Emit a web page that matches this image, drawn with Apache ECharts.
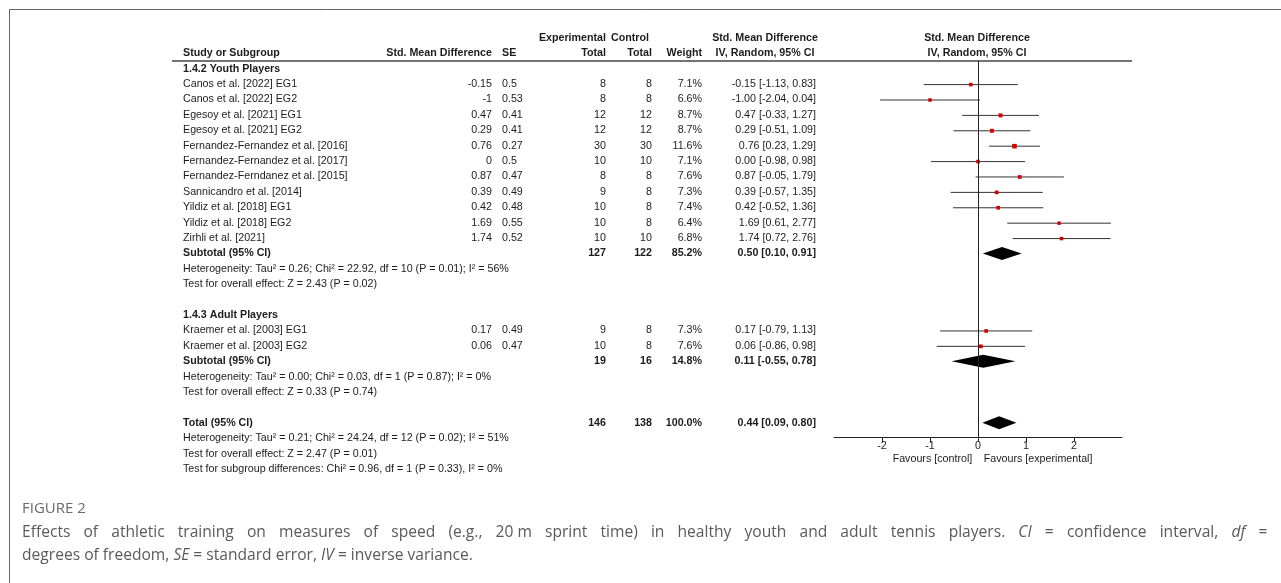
<!DOCTYPE html>
<html><head><meta charset="utf-8">
<script src="https://cdn.jsdelivr.net/npm/echarts@6/dist/echarts.min.js"></script>
<style>html,body{margin:0;padding:0;background:#fff}#c{width:1281px;height:583px}</style>
</head><body><div id="c"></div>
<script>
// ---------- data ----------
const youthStudies = ['Canos et al. [2022] EG1', 'Canos et al. [2022] EG2', 'Egesoy et al. [2021] EG1', 'Egesoy et al. [2021] EG2',
  'Fernandez-Fernandez et al. [2016]', 'Fernandez-Fernandez et al. [2017]', 'Fernandez-Ferndanez et al. [2015]',
  'Sannicandro et al. [2014]', 'Yildiz et al. [2018] EG1', 'Yildiz et al. [2018] EG2', 'Zirhli et al. [2021]'];
const youthSMD = [-0.15, -1, 0.47, 0.29, 0.76, 0, 0.87, 0.39, 0.42, 1.69, 1.74];
const youthSE = [0.5, 0.53, 0.41, 0.41, 0.27, 0.5, 0.47, 0.49, 0.48, 0.55, 0.52];
const youthExpN = [8, 8, 12, 12, 30, 10, 8, 9, 10, 10, 10];
const youthCtrlN = [8, 8, 12, 12, 30, 10, 8, 8, 8, 8, 10];
const youthWeight = [7.1, 6.6, 8.7, 8.7, 11.6, 7.1, 7.6, 7.3, 7.4, 6.4, 6.8];
const youthLow = [-1.13, -2.04, -0.33, -0.51, 0.23, -0.98, -0.05, -0.57, -0.52, 0.61, 0.72];
const youthHigh = [0.83, 0.04, 1.27, 1.09, 1.29, 0.98, 1.79, 1.35, 1.36, 2.77, 2.76];

const adultStudies = ['Kraemer et al. [2003] EG1', 'Kraemer et al. [2003] EG2'];
const adultSMD = [0.17, 0.06];
const adultSE = [0.49, 0.47];
const adultExpN = [9, 10];
const adultCtrlN = [8, 8];
const adultWeight = [7.3, 7.6];
const adultLow = [-0.79, -0.86];
const adultHigh = [1.13, 0.98];

// pooled: youth subtotal, adult subtotal, overall total
const pooledLabels = ['Subtotal (95% CI)', 'Subtotal (95% CI)', 'Total (95% CI)'];
const pooledEst = [0.50, 0.11, 0.44];
const pooledLow = [0.10, -0.55, 0.09];
const pooledHigh = [0.91, 0.78, 0.80];
const pooledExpN = [127, 19, 146];
const pooledCtrlN = [122, 16, 138];
const pooledWeight = [85.2, 14.8, 100.0];

const groupTitles = ['1.4.2 Youth Players', '1.4.3 Adult Players'];
const youthStats = ['Heterogeneity: Tau² = 0.26; Chi² = 22.92, df = 10 (P = 0.01); I² = 56%', 'Test for overall effect: Z = 2.43 (P = 0.02)'];
const adultStats = ['Heterogeneity: Tau² = 0.00; Chi² = 0.03, df = 1 (P = 0.87); I² = 0%', 'Test for overall effect: Z = 0.33 (P = 0.74)'];
const totalStats = ['Heterogeneity: Tau² = 0.21; Chi² = 24.24, df = 12 (P = 0.02); I² = 51%', 'Test for overall effect: Z = 2.47 (P = 0.01)',
  'Test for subgroup differences: Chi² = 0.96, df = 1 (P = 0.33), I² = 0%'];

const xTickValues = [-2, -1, 0, 1, 2];
const favourLabels = ['Favours [control]', 'Favours [experimental]'];

const captionTitle = 'FIGURE 2';
const captionLine1 = ['Effects', 'of', 'athletic', 'training', 'on', 'measures', 'of', 'speed', '(e.g.,', '20 m', 'sprint', 'time)', 'in', 'healthy',
  'youth', 'and', 'adult', 'tennis', 'players.', '{i|CI}', '=', 'confidence', 'interval,', '{i|df}', '='];
const captionLine2 = 'degrees of freedom, {i|SE} = standard error, {i|IV} = inverse variance.';

// ---------- layout ----------
const COL = {
  name: [183, 'left'], smd: [492, 'right'], se: [502, 'left'], exp: [606, 'right'], ctrl: [652, 'right'],
  wt: [702, 'right'], ci: [816, 'right'], ctrlHead: [611, 'left'], ciHead: [765, 'center'], plotHead: [977, 'center']
};
const FONT = '"Liberation Sans", Arial, sans-serif';
const FS = 10.7;
const CAP_FONT = '"Open Sans", sans-serif';
const CAP_FS = 15.6;
const CAP_COLOR = '#5a5a5a';
const fmtCI = (e, l, h) => e.toFixed(2) + ' [' + l.toFixed(2) + ', ' + h.toFixed(2) + ']';

// justified first caption line (reference text is justified to the right margin)
const ctx = document.createElement('canvas').getContext('2d');
ctx.font = CAP_FS + 'px ' + CAP_FONT;
const wordsW = captionLine1.reduce((s, w) => s + ctx.measureText(w.replace(/\{i\||\}/g, '')).width, 0);
const spaceW = (1264 - 17 - wordsW) / (captionLine1.length - 1);
const captionRich = captionLine1.join('{s| }') + '\n' + captionLine2;

const table = [];   // {row, cells:[[col,text,bold]]}
const marks = [];   // [row, est, low, high, weight]
const diamonds = []; // [row, est, low, high]

table.push({row: -3, cells: [['exp', 'Experimental', 1], ['ctrlHead', 'Control', 1], ['ciHead', 'Std. Mean Difference', 1], ['plotHead', 'Std. Mean Difference', 1]]});
table.push({row: -2, cells: [['name', 'Study or Subgroup', 1], ['smd', 'Std. Mean Difference', 1], ['se', 'SE', 1], ['exp', 'Total', 1],
  ['ctrl', 'Total', 1], ['wt', 'Weight', 1], ['ciHead', 'IV, Random, 95% CI', 1], ['plotHead', 'IV, Random, 95% CI', 1]]});

function addGroup(startRow, title, names, smd, se, en, cn, w, lo, hi, pi, stats) {
  table.push({row: startRow, cells: [['name', title, 1]]});
  let r = startRow + 1;
  names.forEach((n, i) => {
    table.push({row: r, cells: [['name', n, 0], ['smd', String(smd[i]), 0], ['se', String(se[i]), 0], ['exp', String(en[i]), 0],
      ['ctrl', String(cn[i]), 0], ['wt', w[i].toFixed(1) + '%', 0], ['ci', fmtCI(smd[i], lo[i], hi[i]), 0]]});
    marks.push([r, smd[i], lo[i], hi[i], w[i]]);
    r++;
  });
  addPooled(r, pi);
  r++;
  stats.forEach(s => { table.push({row: r, cells: [['name', s, 0]]}); r++; });
  return r;
}
function addPooled(r, pi) {
  table.push({row: r, cells: [['name', pooledLabels[pi], 1], ['exp', String(pooledExpN[pi]), 1], ['ctrl', String(pooledCtrlN[pi]), 1],
    ['wt', pooledWeight[pi].toFixed(1) + '%', 1], ['ci', fmtCI(pooledEst[pi], pooledLow[pi], pooledHigh[pi]), 1]]});
  diamonds.push([r, pooledEst[pi], pooledLow[pi], pooledHigh[pi]]);
}
let nextRow = addGroup(-1, groupTitles[0], youthStudies, youthSMD, youthSE, youthExpN, youthCtrlN, youthWeight, youthLow, youthHigh, 0, youthStats);
nextRow = addGroup(nextRow + 1, groupTitles[1], adultStudies, adultSMD, adultSE, adultExpN, adultCtrlN, adultWeight, adultLow, adultHigh, 1, adultStats);
nextRow += 1;
addPooled(nextRow, 2);
totalStats.forEach((s, i) => table.push({row: nextRow + 1 + i, cells: [['name', s, 0]]}));

const chart = echarts.init(document.getElementById('c'), null, {renderer: 'canvas'});
chart.setOption({
  backgroundColor: '#fff',
  animation: false,
  title: [
    {text: captionTitle, left: 17, top: 496, textStyle: {fontFamily: CAP_FONT, fontSize: 15, fontWeight: 'normal', color: '#6a6a6a'}},
    {text: captionRich, left: 17, top: 516,
     textStyle: {fontFamily: CAP_FONT, fontSize: CAP_FS, fontWeight: 'normal', color: CAP_COLOR, lineHeight: 23,
       rich: {
         i: {fontFamily: CAP_FONT, fontSize: CAP_FS, fontStyle: 'italic', color: CAP_COLOR, lineHeight: 23},
         s: {fontFamily: CAP_FONT, fontSize: CAP_FS, color: CAP_COLOR, lineHeight: 23, width: spaceW}
       }}}
  ],
  graphic: [
    {type: 'polyline', silent: true, shape: {points: [[9.5, 583], [9.5, 9.5], [1281, 9.5]]}, style: {stroke: '#666', lineWidth: 1, fill: null}},
    {type: 'line', silent: true, shape: {x1: 172, y1: 61, x2: 1132, y2: 61}, style: {stroke: '#444', lineWidth: 1.3}}
  ],
  grid: {left: 834, top: 61, width: 288, height: 376, containLabel: false},
  xAxis: {
    type: 'value', min: -3, max: 3, interval: 1,
    axisLine: {show: true, onZero: false, lineStyle: {color: '#222', width: 1}},
    axisTick: {show: true, customValues: xTickValues, length: 5, lineStyle: {color: '#222'}},
    axisLabel: {show: true, customValues: xTickValues, margin: 4, fontSize: FS, fontFamily: FONT, color: '#222'},
    splitLine: {show: false}
  },
  yAxis: {type: 'value', inverse: true, min: -1.5, max: 22.92, show: false, splitLine: {show: false}},
  series: [
    {
      type: 'custom', name: 'table', clip: false, silent: true,
      data: table.map((t, i) => [0, t.row, i]),
      encode: {x: 0, y: 1},
      renderItem: (params, api) => {
        const t = table[params.dataIndex];
        const y = api.coord([0, t.row])[1];
        return {type: 'group', children: t.cells.map(c => ({
          type: 'text',
          style: {text: c[1], x: COL[c[0]][0], y: y, align: COL[c[0]][1], verticalAlign: 'middle',
            textAlign: COL[c[0]][1], textVerticalAlign: 'middle',
            fontFamily: FONT, fontSize: FS, fontWeight: c[2] ? 'bold' : 'normal', fill: '#1c1c1c'}
        }))};
      }
    },
    {
      type: 'custom', name: 'favours', clip: false, silent: true,
      data: [[-0.12, 24.37, 0], [0.12, 24.37, 1]],
      renderItem: (params, api) => {
        const p = api.coord([api.value(0), api.value(1)]);
        const i = params.dataIndex;
        return {type: 'text', style: {text: favourLabels[i], x: p[0], y: p[1], align: i ? 'left' : 'right', verticalAlign: 'middle',
          textAlign: i ? 'left' : 'right', textVerticalAlign: 'middle', fontFamily: FONT, fontSize: FS, fill: '#1c1c1c'}};
      }
    },
    {
      type: 'custom', name: 'studies', clip: false, silent: true,
      data: marks,
      encode: {x: [1, 2, 3], y: 0},
      renderItem: (params, api) => {
        const r = api.value(0);
        const e = api.coord([api.value(1), r]);
        const l = api.coord([api.value(2), r]);
        const h = api.coord([api.value(3), r]);
        const s = Math.sqrt(api.value(4)) * 1.35;
        return {type: 'group', children: [
          {type: 'line', shape: {x1: l[0], y1: l[1] + 0.5, x2: h[0], y2: h[1] + 0.5}, style: {stroke: '#333', lineWidth: 1}},
          {type: 'rect', shape: {x: e[0] - s / 2, y: e[1] - s / 2 + 0.5, width: s, height: s}, style: {fill: '#d40000'}}
        ]};
      },
      markLine: {silent: true, symbol: ['none', 'none'], label: {show: false},
        lineStyle: {color: '#222', width: 1, type: 'solid'}, data: [{xAxis: 0}]}
    },
    {
      type: 'custom', name: 'pooled', clip: false, silent: true,
      data: diamonds,
      encode: {x: [1, 2, 3], y: 0},
      renderItem: (params, api) => {
        const r = api.value(0);
        const top = api.coord([api.value(1), r - 0.42]);
        const bot = api.coord([api.value(1), r + 0.42]);
        const l = api.coord([api.value(2), r]);
        const h = api.coord([api.value(3), r]);
        return {type: 'polygon', shape: {points: [l, top, h, bot]}, style: {fill: '#000'}};
      }
    }
  ]
});
</script>
</body></html>
